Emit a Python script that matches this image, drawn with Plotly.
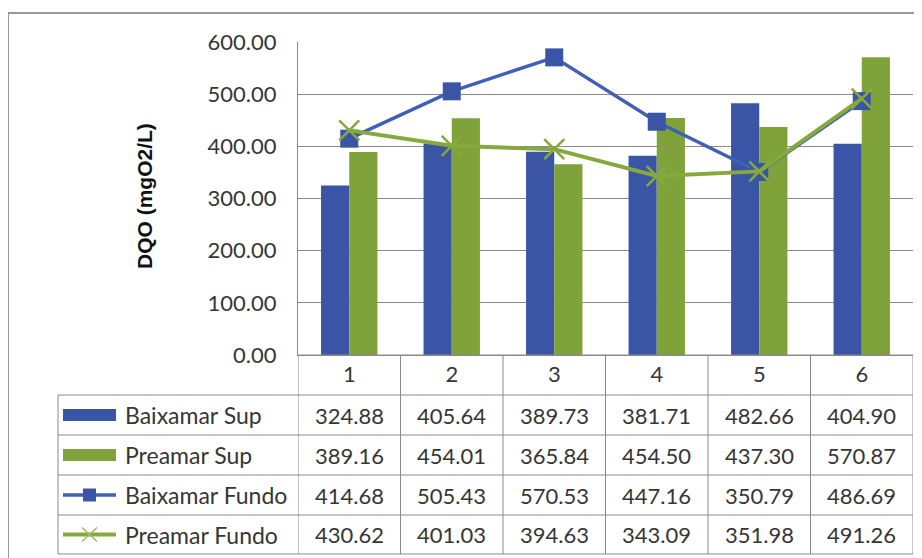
import plotly.graph_objects as go

# data
pontos = ['1', '2', '3', '4', '5', '6']
baixamar_sup = [324.88, 405.64, 389.73, 381.71, 482.66, 404.90]
preamar_sup = [389.16, 454.01, 365.84, 454.50, 437.30, 570.87]
baixamar_fundo = [414.68, 505.43, 570.53, 447.16, 350.79, 486.69]
preamar_fundo = [430.62, 401.03, 394.63, 343.09, 351.98, 491.26]
series_names = ['Baixamar Sup', 'Preamar Sup', 'Baixamar Fundo', 'Preamar Fundo']

AZUL = '#3a55a6'
VERDE = '#7fa23a'
GRADE = '#8a8a8a'
TXT = '#363636'
FONTE = 'Lato, Carlito, sans-serif'

# pixel geometry measured on the page; the page body adds an 8px offset
OFF = 8
W, H = 922, 558
L, R, T, B = 298 - OFF, 913 - OFF, 42 - OFF, 355 - OFF
row_edges = [y - OFF for y in (355, 395, 435, 475, 515, 554)]
TAB_L = 58 - OFF


def py(y):
    return (B - y) / (B - T)


def px_(x):
    return (x - L) / (R - L)


fig = go.Figure()
fig.add_trace(go.Bar(x=pontos, y=baixamar_sup, name='Baixamar Sup', marker=dict(color=AZUL, line_width=0)))
fig.add_trace(go.Bar(x=pontos, y=preamar_sup, name='Preamar Sup', marker=dict(color=VERDE, line_width=0)))
fig.add_trace(go.Scatter(x=pontos, y=baixamar_fundo, mode='lines+markers', name='Baixamar Fundo',
                         line=dict(color='#4060b4', width=3.5),
                         marker=dict(symbol='square', size=18, color=AZUL)))
fig.add_trace(go.Scatter(x=pontos, y=preamar_fundo, mode='lines+markers', name='Preamar Fundo',
                         line=dict(color='#86a83c', width=4),
                         marker=dict(symbol='x-thin', size=20, line=dict(color='#86a83c', width=2.5))))

shapes = []
# outer frame
shapes.append(dict(type='rect', xref='paper', yref='paper', x0=px_(8 - OFF), x1=px_(960), y0=py(600), y1=py(13 - OFF),
                   line=dict(color='#7a7a7a', width=1.5)))
# table grid: horizontal lines
for i, yy in enumerate(row_edges):
    x0 = L if i == 0 else TAB_L
    shapes.append(dict(type='line', xref='paper', yref='paper', x0=px_(x0), x1=1, y0=py(yy), y1=py(yy),
                       line=dict(color=GRADE, width=1)))
# vertical lines at category boundaries
for i in range(len(pontos) + 1):
    shapes.append(dict(type='line', xref='x', yref='paper', x0=i - 0.5, x1=i - 0.5,
                       y0=py(row_edges[-1]), y1=py(B), line=dict(color=GRADE, width=1)))
shapes.append(dict(type='line', xref='paper', yref='paper', x0=px_(TAB_L), x1=px_(TAB_L),
                   y0=py(row_edges[1]), y1=py(row_edges[-1]), line=dict(color=GRADE, width=1)))

annotations = []
tabela = [baixamar_sup, preamar_sup, baixamar_fundo, preamar_fundo]
for r, (nome, vals) in enumerate(zip(series_names, tabela)):
    yk = (row_edges[r + 1] + row_edges[r + 2]) / 2
    yc = py(yk)
    annotations.append(dict(x=px_(123 - OFF), y=yc, xref='paper', yref='paper', text=nome, showarrow=False,
                            xanchor='left', yanchor='middle', font=dict(family=FONTE, size=23, color=TXT)))
    for i, v in enumerate(vals):
        annotations.append(dict(x=i, y=yc, xref='x', yref='paper', text=f'{v:.2f}', showarrow=False,
                                xanchor='center', yanchor='middle', font=dict(family=FONTE, size=22, color=TXT)))

    # legend keys inside the first column
    k0, k1 = px_(63 - OFF), px_(116 - OFF)
    if r < 2:
        cor = AZUL if r == 0 else VERDE
        shapes.append(dict(type='rect', xref='paper', yref='paper', x0=k0, x1=k1,
                           y0=py(yk + 6), y1=py(yk - 6), fillcolor=cor, line_width=0))
    elif r == 2:
        shapes.append(dict(type='line', xref='paper', yref='paper', x0=k0, x1=k1,
                           y0=yc, y1=yc, line=dict(color='#4060b4', width=3.5)))
        shapes.append(dict(type='rect', xref='paper', yref='paper', x0=px_(83 - OFF), x1=px_(96 - OFF),
                           y0=py(yk + 6.5), y1=py(yk - 6.5), fillcolor=AZUL, line_width=0))
    else:
        shapes.append(dict(type='line', xref='paper', yref='paper', x0=k0, x1=k1,
                           y0=yc, y1=yc, line=dict(color='#86a83c', width=4)))
        for s in (1, -1):
            shapes.append(dict(type='line', xref='paper', yref='paper', x0=px_(82 - OFF), x1=px_(97 - OFF),
                               y0=py(yk - 7 * s), y1=py(yk + 7 * s), line=dict(color='#9cbc66', width=1.5)))

annotations.append(dict(x=px_(145 - OFF), y=py(196 - OFF), xref='paper', yref='paper', text='<b>DQO (mgO2/L)</b>',
                        textangle=-90, showarrow=False, xanchor='center', yanchor='middle',
                        font=dict(family='Liberation Sans, Arial', size=21, color='#111')))

fig.update_layout(
    width=W, height=H,
    margin=dict(l=L, r=W - R, t=T, b=H - B),
    paper_bgcolor='white', plot_bgcolor='white',
    barmode='group', bargap=0.45, bargroupgap=0,
    showlegend=False,
    shapes=shapes, annotations=annotations,
    xaxis=dict(type='category', range=[-0.5, 5.5], showgrid=False, showline=True, linecolor=GRADE,
               ticks='', ticklabelstandoff=0, tickfont=dict(family=FONTE, size=22, color=TXT)),
    yaxis=dict(range=[0, 600], dtick=100, tickformat='.2f', showgrid=True, gridcolor=GRADE, gridwidth=1,
               showline=True, linecolor=GRADE, ticks='', ticklabelstandoff=16, zeroline=False,
               tickfont=dict(family=FONTE, size=22, color=TXT)),
)

fig.write_html('out.html')
